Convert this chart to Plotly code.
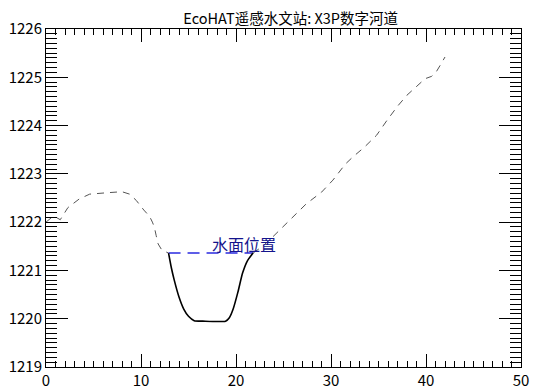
import plotly.graph_objects as go

# Terrain cross-section (dashed banks) and channel (solid)
bank_left_x = [0, 0.8, 1.5, 2.3, 3.5, 4.6, 6.5, 8.0, 8.8, 9.5, 10.3, 10.9, 11.2, 11.4, 11.6, 11.8, 12.2, 12.9]
bank_left_y = [1222.0, 1222.13, 1222.05, 1222.3, 1222.48, 1222.58, 1222.61, 1222.63, 1222.58, 1222.45,
               1222.25, 1222.12, 1222.0, 1221.9, 1221.72, 1221.55, 1221.42, 1221.36]

channel_x = [12.9, 13.2, 13.5, 14.0, 14.5, 15.0, 15.6, 16.5, 18.9, 19.3, 19.7, 20.2, 20.7, 21.2, 21.8]
channel_y = [1221.36, 1221.05, 1220.8, 1220.45, 1220.2, 1220.05, 1219.96, 1219.95, 1219.95, 1220.02,
             1220.2, 1220.55, 1220.95, 1221.2, 1221.36]

bank_right_x = [21.8, 22.8, 24.0, 25.5, 27.4, 29.0, 30.2, 31.5, 32.3, 33.5, 34.8, 35.9, 37.0, 38.0,
                39.0, 39.9, 40.6, 41.1, 41.5, 42.0]
bank_right_y = [1221.36, 1221.5, 1221.72, 1222.02, 1222.38, 1222.62, 1222.87, 1223.2, 1223.35, 1223.55,
                1223.8, 1224.11, 1224.4, 1224.63, 1224.82, 1224.97, 1225.02, 1225.12, 1225.25, 1225.42]

water_x = [12.9, 21.8]
water_y = [1221.36, 1221.36]
water_label = "水面位置"
water_label_x = 17.3
water_label_y = 1221.55

title_text = "EcoHAT遥感水文站: X3P数字河道"

font_family = "Noto Sans CJK SC, Noto Sans, DejaVu Sans, sans-serif"

fig = go.Figure()
dash_style = dict(color="#555555", width=1, dash="7px,6px")
fig.add_trace(go.Scatter(x=bank_left_x, y=bank_left_y, mode="lines", line=dash_style, showlegend=False))
fig.add_trace(go.Scatter(x=bank_right_x, y=bank_right_y, mode="lines", line=dash_style, showlegend=False))
fig.add_trace(go.Scatter(x=water_x, y=water_y, mode="lines",
                         line=dict(color="#2a2ae0", width=1.6, dash="12px,7px"), showlegend=False))
fig.add_trace(go.Scatter(x=channel_x, y=channel_y, mode="lines",
                         line=dict(color="black", width=1.6, shape="spline", smoothing=0.6), showlegend=False))

fig.add_annotation(x=water_label_x, y=water_label_y, text=water_label, showarrow=False,
                   xanchor="left", yanchor="middle",
                   font=dict(family=font_family, size=16, color="#14148c"))

# The page body adds an 8px offset, so the figure is 8px smaller and margins shifted accordingly
fig.update_layout(
    width=537, height=382,
    margin=dict(l=38, r=24, t=21, b=23, autoexpand=False),
    paper_bgcolor="white", plot_bgcolor="white",
    title=dict(text=title_text, x=0.515, xref="paper", y=1 - 11 / 382, yref="container",
               xanchor="center", yanchor="middle",
               font=dict(family=font_family, size=14.5, color="black")),
    font=dict(family=font_family, size=14, color="black"),
)
fig.update_xaxes(range=[0, 50], tickmode="linear", tick0=0, dtick=10,
                 ticks="inside", ticklen=13, tickcolor="black", tickwidth=1,
                 minor=dict(tickmode="linear", tick0=0, dtick=1, ticks="inside", ticklen=6,
                            tickcolor="black", tickwidth=1, showgrid=False),
                 showline=True, linecolor="black", linewidth=1, mirror="ticks",
                 showgrid=False, zeroline=False, automargin=False,
                 tickfont=dict(family=font_family, size=15, color="black"))
fig.update_yaxes(range=[1219, 1226], tickmode="linear", tick0=1219, dtick=1,
                 ticks="inside", ticklen=22, tickcolor="black", tickwidth=1,
                 minor=dict(tickmode="linear", tick0=1219, dtick=0.1, ticks="inside", ticklen=11,
                            tickcolor="black", tickwidth=1, showgrid=False),
                 showline=True, linecolor="black", linewidth=1, mirror="ticks",
                 showgrid=False, zeroline=False, automargin=False,
                 tickfont=dict(family=font_family, size=15, color="black"))

fig.write_html("out.html")
